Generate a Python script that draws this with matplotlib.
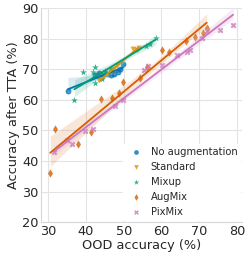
import numpy as np
import matplotlib
matplotlib.use('Agg')
import matplotlib.pyplot as plt
import seaborn as sns

# OOD accuracy vs accuracy after TTA, one series per augmentation
noaug_x = [35.2, 42.5, 43.5, 44.5, 45.5, 46.5, 47.5, 48.5, 49.0, 49.8]
noaug_y = [62.8, 68.0, 68.8, 68.3, 68.5, 68.2, 68.6, 69.0, 70.0, 71.7]

std_x = [43.5, 44.5, 45.5, 46.5, 47.5, 48.3, 52.5, 53.5, 54.0]
std_y = [66.5, 67.5, 68.5, 69.0, 70.0, 71.0, 76.8, 76.5, 77.0]

mixup_x = [36.9, 39.2, 41.8, 42.5, 42.3, 44.2, 45.0, 46.5, 56.0, 57.0, 58.5]
mixup_y = [60.0, 69.0, 69.0, 70.7, 65.5, 66.8, 69.5, 70.0, 77.8, 78.3, 80.2]

augmix_x = [30.5, 31.7, 37.9, 41.3, 43.9, 46.9, 48.8, 49.9, 54.3, 56.1,
            60.2, 62.1, 66.4, 69.0, 70.9, 72.0]
augmix_y = [36.1, 50.6, 45.5, 49.6, 60.3, 60.6, 62.3, 66.0, 67.2, 70.8,
            76.3, 75.8, 79.2, 80.5, 82.0, 83.5]

pixmix_x = [31.4, 34.9, 36.3, 39.8, 41.8, 47.7, 49.9, 55.4, 56.5, 60.1,
            64.0, 66.7, 67.5, 70.7, 72.0, 75.5, 79.0]
pixmix_y = [43.0, 46.8, 45.4, 49.8, 50.6, 58.0, 59.9, 69.8, 71.1, 71.4,
            74.7, 75.8, 76.3, 80.2, 82.7, 82.9, 84.5]

labels = ['No augmentation', 'Standard', 'Mixup', 'AugMix', 'PixMix']
markers = ['o', 'v', '*', 'd', 'X']
series = [(noaug_x, noaug_y), (std_x, std_y), (mixup_x, mixup_y),
          (augmix_x, augmix_y), (pixmix_x, pixmix_y)]

sns.set_style('whitegrid', {'grid.color': '#e3e3e3', 'axes.edgecolor': '#d8d8d8'})
colors = sns.color_palette('colorblind')

fig = plt.figure(figsize=(2.49, 2.6), dpi=100)
ax = fig.add_axes([0.165, 0.146, 0.808, 0.822])

for (x, y), lab, m, c in zip(series, labels, markers, colors):
    size = 26 if m == '*' else 18
    sns.regplot(x=np.array(x), y=np.array(y), ax=ax, color=c, marker=m,
                label=lab, seed=0, truncate=True,
                scatter_kws=dict(s=size, linewidths=0),
                line_kws=dict(lw=1.3))

ax.set_ylim(20, 90)
ax.set_xticks([30, 40, 50, 60, 70, 80])
ax.set_yticks([20, 30, 40, 50, 60, 70, 80, 90])
ax.tick_params(labelsize=9.3, pad=2, length=0)
ax.set_xlabel('OOD accuracy (%)', fontsize=9.3, labelpad=1)
ax.set_ylabel('Accuracy after TTA (%)', fontsize=9.3, labelpad=1)
sns.despine(ax=ax, top=True, right=True)

leg = ax.legend(loc='lower right', fontsize=7.2, frameon=True,
                edgecolor='white', framealpha=1, handletextpad=0.5,
                borderpad=0.3, borderaxespad=0.2, labelspacing=0.5,
                markerscale=0.8)

fig.savefig('out.png', dpi=100)
